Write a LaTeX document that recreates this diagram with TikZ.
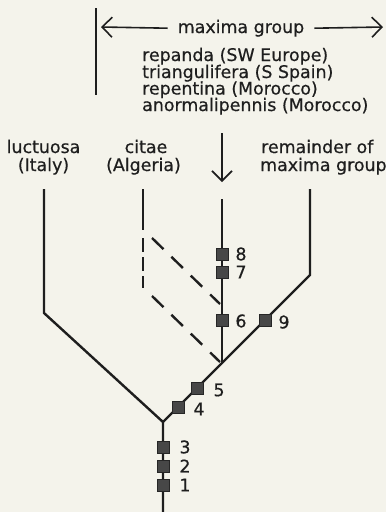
\documentclass[tikz,border=0pt]{standalone}
\usepackage{fontspec}
\setmainfont{DejaVu Sans}
\newfontfamily\labelfont[FakeBold=0.5]{DejaVu Sans}
\usetikzlibrary{arrows.meta}
\definecolor{bg}{RGB}{244,243,235}
\definecolor{ink}{RGB}{30,30,30}
\begin{document}
\begin{tikzpicture}[x=1pt,y=-1pt,
  tree/.style={draw=ink,line width=2.4pt},
  thin/.style={draw=ink,line width=1.6pt},
  barb/.style={-{Straight Barb[length=10pt,width=20pt,line width=1.6pt]}},
  sq/.style={draw=black!85,fill=black!72,minimum size=12pt,inner sep=0pt,line width=0.8pt},
  lbl/.style={font=\labelfont\fontsize{17.4}{17.4}\selectfont,text=ink,inner sep=0pt},
  num/.style={lbl,anchor=center}]
\fill[bg] (0,0) rectangle (386,512);
\useasboundingbox (0,0) rectangle (386,512);

% top bracket and arrow
\coordinate (bt) at (96,8);
\coordinate (bb) at (96,95);
\draw[thin] (bt) -- (bb);
\coordinate (al) at (101,27);
\coordinate (ar) at (383,27);
\node[lbl,anchor=base] (mg) at (241,33) {maxima group};
\draw[thin,barb] (mg.west) ++(-10,0) coordinate (mgl) -- (al);
\draw[thin,barb] (mg.east) ++(10,0) coordinate (mgr) -- (ar);

\node[lbl,anchor=base west] (t1) at (142,61) {repanda (SW Europe)};
\node[lbl,anchor=base west] (t2) at (142,78) {triangulifera (S Spain)};
\node[lbl,anchor=base west] (t3) at (142,94.5) {repentina (Morocco)};
\node[lbl,anchor=base west] (t4) at (142,111) {anormalipennis (Morocco)};

% down arrow
\coordinate (dat) at (222,133);
\coordinate (dab) at (222,182);
\draw[thin,barb] (dat) -- (dab);

% taxon labels
\node[lbl,anchor=base] (lu1) at (43.5,153) {luctuosa};
\node[lbl,anchor=base] (lu2) at (43.5,171) {(Italy)};
\node[lbl,anchor=base] (ci1) at (146,153) {citae};
\node[lbl,anchor=base] (ci2) at (143.5,171) {(Algeria)};
\node[lbl,anchor=base west] (re1) at (261,153) {remainder of};
\node[lbl,anchor=base west] (re2) at (260,171) {maxima group};

% tree
\coordinate (rb) at (163,512);
\coordinate (j0) at (163,422);
\coordinate (lb) at (44,313);
\coordinate (lt) at (44,189);
\coordinate (rbd) at (310,275);
\coordinate (rt) at (310,189);
\coordinate (j1) at (222,363);
\coordinate (ct) at (222,199);
\coordinate (cit) at (143,189);
\coordinate (cis) at (143,230);
\coordinate (cid1) at (143,238);
\coordinate (cid2) at (143,288);
\coordinate (du1) at (152,238);
\coordinate (du2) at (220,304);
\coordinate (dl1) at (152,296);
\coordinate (dl2) at (220,362);

\draw[tree] (rb) -- (j0) -- (lb) -- (lt);
\draw[tree] (j0) -- (rbd) -- (rt);
\draw[tree] (j1) -- (ct);
\draw[tree] (cit) -- (cis);
\draw[tree,dash pattern=on 14pt off 5pt] (cid1) -- (cid2);
\draw[tree,dash pattern=on 16pt off 11pt] (du1) -- (du2);
\draw[tree,dash pattern=on 16pt off 11pt] (dl1) -- (dl2);

% character squares
\node[sq] (s1) at (163,485) {};
\node[sq] (s2) at (163,466) {};
\node[sq] (s3) at (163,447) {};
\node[sq] (s4) at (178,407) {};
\node[sq] (s5) at (197,388) {};
\node[sq] (s6) at (222,320) {};
\node[sq] (s7) at (222,272) {};
\node[sq] (s8) at (222,254) {};
\node[sq] (s9) at (265,320) {};

\node[num] (n1) at (185,485) {1};
\node[num] (n2) at (185,466) {2};
\node[num] (n3) at (185,447) {3};
\node[num] (n4) at (199,409) {4};
\node[num] (n5) at (219,390) {5};
\node[num] (n6) at (241,321) {6};
\node[num] (n7) at (241,272) {7};
\node[num] (n8) at (241,254) {8};
\node[num] (n9) at (284,322) {9};
\end{tikzpicture}
\end{document}
